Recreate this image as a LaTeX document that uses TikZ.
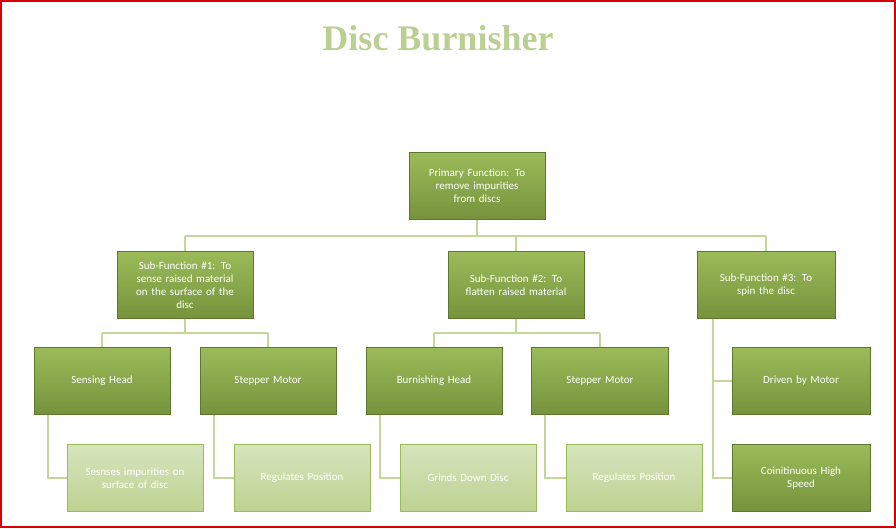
\documentclass[tikz,border=0pt]{standalone}
\usepackage{fontspec}
\setsansfont{Carlito}
\newfontfamily\titlefont{Liberation Serif}
\usetikzlibrary{positioning}
\definecolor{leafdark}{HTML}{76933C}
\definecolor{leafmid}{HTML}{9BBB59}
\definecolor{leaflight}{HTML}{C3D69B}
\definecolor{leafpale}{HTML}{D7E4BD}
\definecolor{linkgreen}{HTML}{C3D69B}
\begin{document}
\begin{tikzpicture}[x=1pt,y=-1pt,
                    every node/.style={font=\sffamily\fontsize{11}{13}\selectfont, text=white, align=center},
                    fnbox/.style={draw=leafdark!80!black, top color=leafmid, bottom color=leafdark, minimum width=136pt, minimum height=67pt, text width=118pt, inner sep=2pt},
                    leafbox/.style={draw=leafmid, top color=leafpale, bottom color=leaflight!85!leafmid, minimum width=136pt, minimum height=67pt, text width=118pt, inner sep=2pt},
                    link/.style={draw=linkgreen, line width=2pt}
]
\useasboundingbox (0,0) rectangle (896,528);
\draw[red!85!black, line width=2pt] (1,1) rectangle (895,527);
%
\node[font=\titlefont\bfseries\fontsize{36}{40}\selectfont, text=leaflight!90!leafdark] at (438,38) (title) {Disc Burnisher};
%
\coordinate (bus1) at (477,236);
\coordinate (bus1l) at (185,236);
\coordinate (bus1r) at (766,236);
\coordinate (bus2) at (185,333);
\coordinate (bus3) at (516,333);
%
\draw[link] (477,186) -- (bus1);
\draw[link] (bus1l) -- (bus1r);
\draw[link] (bus1l) -- (185,285);
\draw[link] (516,236) -- (516,285);
\draw[link] (bus1r) -- (766,285);
\draw[link] (185,285) -- (bus2);
\draw[link] (102,333) -- (268,333);
\draw[link] (102,333) -- (102,381);
\draw[link] (268,333) -- (268,381);
\draw[link] (516,285) -- (bus3);
\draw[link] (434,333) -- (600,333);
\draw[link] (434,333) -- (434,381);
\draw[link] (600,333) -- (600,381);
\draw[link] (713,285) |- (801,381);
\draw[link] (713,381) |- (801,478);
\draw[link] (48,381) |- (135,478);
\draw[link] (214,381) |- (302,478);
\draw[link] (380,381) |- (468,478);
\draw[link] (545,381) |- (634,478);
%
\node[fnbox] at (477,186) (primary) {Primary Function: To\\ remove impurities\\ from discs};
\node[fnbox] at (185,285) (sub1) {Sub-Function \#1: To\\ sense raised material\\ on the surface of the\\ disc};
\node[fnbox] at (516,285) (sub2) {Sub-Function \#2: To\\ flatten raised material};
\node[fnbox, minimum width=138pt] at (766,285) (sub3) {Sub-Function \#3: To\\ spin the disc};
%
\node[fnbox] at (102,381) (sensing) {Sensing Head};
\node[fnbox] at (268,381) (stepper1) {Stepper Motor};
\node[fnbox] at (434,381) (burnish) {Burnishing Head};
\node[fnbox, minimum width=137pt] at (600,381) (stepper2) {Stepper Motor};
\node[fnbox, minimum width=138pt] at (801,381) (driven) {Driven by Motor};
%
\node[leafbox] at (135,478) (senses) {Sesnses impurities on\\ surface of disc};
\node[leafbox] at (302,478) (regulate1) {Regulates Position};
\node[leafbox] at (468,478) (grinds) {Grinds Down Disc};
\node[leafbox] at (634,478) (regulate2) {Regulates Position};
\node[fnbox, minimum width=138pt] at (801,478) (speed) {Coinitinuous High\\ Speed};
\end{tikzpicture}
\end{document}
